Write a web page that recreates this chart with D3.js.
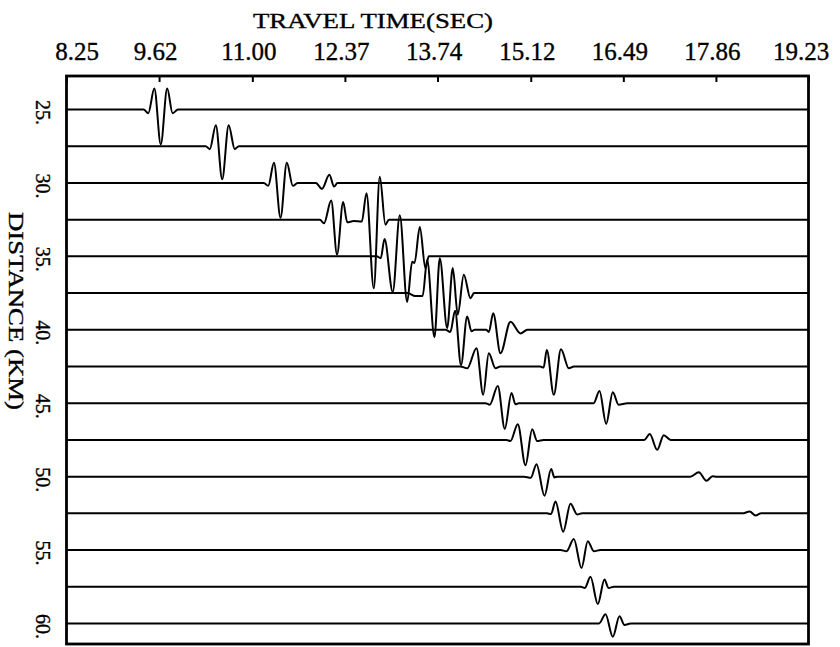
<!DOCTYPE html>
<html>
<head>
<meta charset="utf-8">
<script src="https://cdn.jsdelivr.net/npm/d3@7"></script>
<style>
  body { margin: 0; background: #fff; }
  svg { display: block; }
  text { font-family: "Liberation Serif", "Times New Roman", serif; fill: #000; stroke: #000; stroke-width: 0.35; }
</style>
</head>
<body>
<div id="chart"></div>
<script>
const timeTicks = [8.25, 9.62, 11.00, 12.37, 13.74, 15.12, 16.49, 17.86, 19.23];
const timeLabels = ["8.25", "9.62", "11.00", "12.37", "13.74", "15.12", "16.49", "17.86", "19.23"];
const distanceTicks = [25, 30, 35, 40, 45, 50, 55, 60];
const distanceLabels = ["25.", "30.", "35.", "40.", "45.", "50.", "55.", "60."];
const distances = [25, 27.5, 30, 32.5, 35, 37.5, 40, 42.5, 45, 47.5, 50, 52.5, 55, 57.5, 60];

// each trace: [travel time (s), amplitude in trace spacings, up = positive]
const wave25 = [[9.39,0],[9.46,-0.1],[9.55,0.57],[9.645,-0.95],[9.74,0.57],[9.82,-0.1],[9.90,0]];
const wave27_5 = [[10.31,0],[10.37,-0.08],[10.46,0.57],[10.554,-0.9],[10.65,0.57],[10.74,-0.08],[10.80,0]];
const wave30 = [[11.17,0],[11.235,-0.08],[11.32,0.55],[11.417,-0.95],[11.51,0.55],[11.60,-0.08],[11.67,0],
  [11.94,0],[12.03,-0.16],[12.14,0.22],[12.21,-0.1],[12.26,0]];
const wave32_5 = [[12.00,0],[12.06,-0.1],[12.167,0.52],[12.253,-0.95],[12.344,0.48],[12.404,-0.07],[12.50,-0.04],
  [12.62,-0.05],[12.689,0.72],[12.797,-1.87],[12.886,1.17],[12.97,-0.14],[13.02,0]];
const wave35 = [[12.84,0],[12.90,-0.05],[12.956,0.47],[13.078,-0.97],[13.182,1.12],[13.291,-1.24],[13.365,-0.15],
  [13.40,-0.18],[13.478,0.8],[13.562,-0.33],[13.61,0]];
const wave37_5 = [[13.30,0],[13.41,-0.08],[13.52,-0.08],[13.587,0.9],[13.695,-1.2],[13.774,0.95],[13.883,-0.95],
  [13.966,0.68],[14.04,-0.59],[14.129,0.5],[14.228,-0.14],[14.28,0]];
const wave40 = [[13.86,0],[13.93,-0.06],[14.0,0.52],[14.088,-0.96],[14.179,0.36],[14.243,-0.04],[14.29,0],
  [14.46,0],[14.50,-0.06],[14.564,0.45],[14.672,-0.64],[14.82,0.22],[14.968,-0.1],[15.07,0]];
const wave42_5 = [[14.08,0],[14.18,-0.05],[14.317,0.5],[14.416,-0.77],[14.499,0.36],[14.598,-0.05],[14.67,0],
  [15.26,0],[15.31,-0.03],[15.357,0.45],[15.461,-0.77],[15.567,0.47],[15.683,-0.05],[15.76,0]];
const wave45 = [[14.45,0],[14.514,-0.04],[14.632,0.47],[14.736,-0.7],[14.835,0.28],[14.894,-0.03],[14.94,0],
  [16.05,0],[16.137,0.33],[16.236,-0.56],[16.334,0.3],[16.42,-0.04],[16.55,0]];
const wave47_5 = [[14.76,0],[14.82,-0.03],[14.928,0.43],[15.042,-0.69],[15.141,0.29],[15.215,-0.03],[15.31,0],
  [16.80,0],[16.881,0.16],[16.991,-0.27],[17.088,0.13],[17.19,0]];
const wave50 = [[15.02,0],[15.12,-0.03],[15.205,0.34],[15.323,-0.52],[15.422,0.21],[15.47,-0.02],[15.51,0],
  [17.48,0],[17.607,0.12],[17.72,-0.11],[17.81,0.01],[17.87,0]];
const wave52_5 = [[15.36,0],[15.42,-0.02],[15.486,0.32],[15.60,-0.5],[15.708,0.26],[15.807,-0.03],[15.88,0],
  [18.25,0],[18.36,0.05],[18.446,-0.06],[18.53,0]];
const wave55 = [[15.56,0],[15.65,-0.03],[15.757,0.3],[15.871,-0.49],[15.964,0.24],[16.053,-0.03],[16.15,0]];
const wave57_5 = [[15.86,0],[15.92,-0.03],[16.004,0.27],[16.112,-0.47],[16.211,0.2],[16.27,-0.03],[16.35,0]];
const wave60 = [[16.13,0],[16.226,0.25],[16.334,-0.36],[16.433,0.2],[16.507,-0.04],[16.6,0]];

const waves = [wave25, wave27_5, wave30, wave32_5, wave35, wave37_5, wave40, wave42_5,
  wave45, wave47_5, wave50, wave52_5, wave55, wave57_5, wave60];

const width = 840, height = 647;
const frame = { left: 66.5, right: 808.5, top: 76, bottom: 644 };

const svg = d3.select("#chart").append("svg")
  .attr("width", width)
  .attr("height", height);

const x = d3.scaleLinear()
  .domain([timeTicks[0], timeTicks[timeTicks.length - 1]])
  .range([frame.left, frame.right]);

const y = d3.scaleLinear()
  .domain([25, 60])
  .range([109.5, 623.5]);

const spacing = y(distances[1]) - y(distances[0]);

svg.append("clipPath").attr("id", "plot-clip")
  .append("rect")
  .attr("x", frame.left)
  .attr("y", frame.top)
  .attr("width", frame.right - frame.left)
  .attr("height", frame.bottom - frame.top);

const line = d3.line()
  .x(d => x(d[0]))
  .y(d => d[1])
  .curve(d3.curveMonotoneX);

const traceGroup = svg.append("g").attr("clip-path", "url(#plot-clip)");

distances.forEach((dist, i) => {
  const base = y(dist);
  const pts = [[x.domain()[0], 0], ...waves[i], [x.domain()[1], 0]]
    .map(p => [p[0], base - p[1] * spacing]);
  traceGroup.append("path")
    .attr("d", line(pts))
    .attr("fill", "none")
    .attr("stroke", "#000")
    .attr("stroke-width", 2)
    .attr("stroke-linejoin", "round");
});

// frame
svg.append("rect")
  .attr("x", frame.left)
  .attr("y", frame.top)
  .attr("width", frame.right - frame.left)
  .attr("height", frame.bottom - frame.top)
  .attr("fill", "none")
  .attr("stroke", "#000")
  .attr("stroke-width", 2.8);

// top axis
const axis = svg.append("g")
  .attr("transform", `translate(0,${frame.top})`)
  .call(d3.axisTop(x)
    .tickValues(timeTicks)
    .tickFormat((d, i) => timeLabels[i])
    .tickSizeInner(-6)
    .tickSizeOuter(0)
    .tickPadding(16));

axis.select(".domain").remove();
axis.selectAll(".tick line")
  .attr("stroke", "#000")
  .attr("stroke-width", 2);
axis.selectAll(".tick text")
  .attr("font-size", 25)
  .attr("dx", (d, i) => i === 0 ? 10 : (i === timeTicks.length - 1 ? -8 : -4));
axis.attr("font-family", null).attr("font-size", null);

svg.append("text")
  .attr("x", 373)
  .attr("y", 28)
  .attr("text-anchor", "middle")
  .attr("font-size", 22)
  .attr("textLength", 240)
  .attr("lengthAdjust", "spacingAndGlyphs")
  .text("TRAVEL TIME(SEC)");

// left labels, rotated to read downward
svg.selectAll(".dist-label")
  .data(distanceTicks)
  .enter().append("text")
  .attr("class", "dist-label")
  .attr("transform", d => `translate(36,${y(d) + 3}) rotate(90)`)
  .attr("text-anchor", "middle")
  .attr("font-size", 20)
  .text((d, i) => distanceLabels[i]);

svg.append("text")
  .attr("transform", "translate(9,311) rotate(90)")
  .attr("text-anchor", "middle")
  .attr("font-size", 21)
  .attr("textLength", 198)
  .attr("lengthAdjust", "spacingAndGlyphs")
  .text("DISTANCE (KM)");
</script>
</body>
</html>
